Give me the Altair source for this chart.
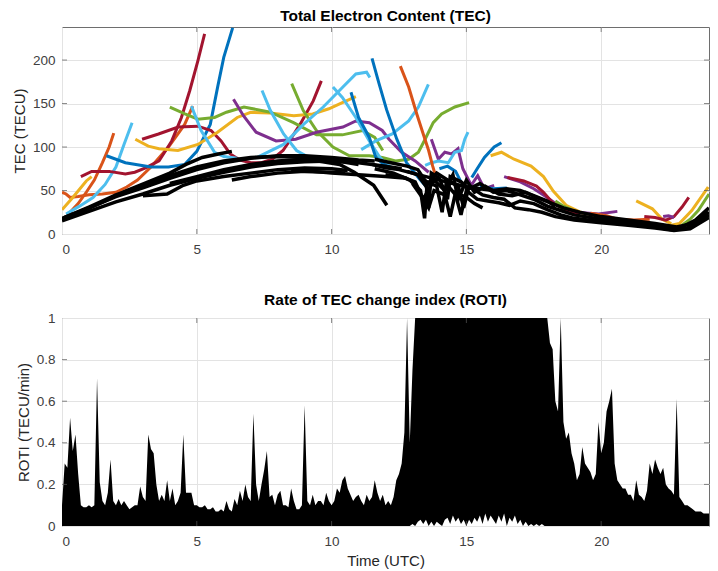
import altair as alt
import pandas as pd

# MATLAB default line colours
C_BLUE = "#0072BD"
C_ORANGE = "#D95319"
C_YELLOW = "#EDB120"
C_PURPLE = "#7E2F8E"
C_GREEN = "#77AC30"
C_LBLUE = "#4DBEEE"
C_DRED = "#A2142F"

FONT = "Liberation Sans"

# ---------------- TEC curves: (hour UTC, TECU) ----------------
orange_a = [(0.0, 48), (0.15, 46), (0.3, 42), (0.6, 43), (1.0, 45), (1.5, 46), (2.0, 48), (2.4, 54),
            (2.8, 62), (3.3, 77), (3.95, 100), (4.55, 126), (4.85, 147)]
orange_b = [(0.3, 25), (0.6, 35), (0.9, 48), (1.2, 62), (1.5, 82), (1.75, 100), (1.92, 116)]
yellow_a = [(0.0, 28), (0.4, 42), (0.9, 61), (1.1, 66)]
lightblue_a = [(0.15, 23), (0.65, 32), (1.15, 42), (1.6, 57), (2.0, 77), (2.3, 103), (2.6, 128)]
darkred_a = [(0.7, 66), (1.1, 72), (1.75, 72), (2.35, 69), (2.7, 71), (3.1, 76), (3.6, 84), (4.07, 107),
             (4.43, 134), (4.74, 165), (5.04, 199), (5.29, 230)]
blue_a = [(1.65, 90), (2.35, 82), (3.3, 77), (3.95, 77), (4.55, 80), (5.0, 95), (5.5, 126), (5.78, 170),
          (6.0, 203), (6.33, 237)]
darkred_b = [(2.97, 109), (3.58, 115), (4.31, 123), (5.04, 124), (5.53, 119), (5.9, 107), (6.24, 92),
             (6.6, 85), (7.0, 82), (7.4, 82), (7.8, 86), (8.2, 96), (8.5, 110), (8.83, 126), (9.32, 153),
             (9.62, 176)]
yellow_b = [(2.72, 109), (3.2, 101), (3.6, 98), (4.3, 96), (5.04, 103), (5.77, 117), (6.5, 134), (7.0, 140),
            (7.7, 139), (8.6, 136), (9.3, 138), (9.9, 144), (10.4, 151), (10.9, 158)]
green_a = [(4.0, 146), (4.56, 138), (5.04, 132), (5.66, 134), (6.1, 140), (6.75, 146), (7.73, 140),
           (8.59, 128), (9.44, 114), (10.4, 114), (11.15, 119), (11.6, 111), (11.9, 96)]
green_b = [(8.52, 173), (8.95, 142), (9.44, 119), (10.05, 100), (10.66, 90), (11.4, 90), (11.88, 88),
           (12.37, 84), (12.86, 86), (13.22, 94), (13.47, 109), (13.77, 128), (14.08, 138), (14.57, 146),
           (15.1, 151)]
purple_a = [(6.36, 155), (6.73, 136), (7.2, 117), (7.94, 107), (8.67, 109), (9.44, 117), (10.42, 123),
            (10.9, 130), (11.4, 128), (11.88, 119), (12.13, 109), (12.6, 94), (13.1, 84), (13.6, 71)]
purple_b = [(13.7, 109), (13.96, 86), (14.2, 94), (14.45, 92), (14.69, 98), (14.87, 75), (15.18, 56),
            (15.42, 67), (15.67, 52), (16.03, 56)]
purple_c = [(16.4, 66), (17.0, 60), (17.5, 52), (17.9, 44), (18.4, 33), (19.1, 25), (19.9, 23), (20.6, 26)]
lightblue_b = [(4.8, 147), (5.16, 119), (5.66, 94), (6.0, 89), (6.5, 87)]
lightblue_c = [(7.42, 165), (7.73, 142), (8.22, 115), (8.7, 96), (9.1, 89), (9.5, 85)]
lightblue_d = [(7.24, 88), (8.22, 103), (8.96, 126), (9.69, 146), (10.42, 169), (10.9, 184), (11.3, 186),
               (11.42, 180)]
lightblue_e = [(10.05, 169), (10.4, 157), (10.9, 134), (11.4, 107), (11.77, 89), (12.0, 81), (12.3, 75)]
lightblue_f = [(11.1, 97), (11.64, 107), (12.25, 115), (12.86, 130), (13.22, 146), (13.59, 172)]
lightblue_g = [(13.47, 79), (13.71, 82), (13.96, 84), (14.33, 82), (14.57, 94), (14.82, 96), (14.94, 109),
               (15.06, 117)]
blue_b = [(10.72, 163), (11.0, 134), (11.4, 111), (11.64, 88), (11.9, 81), (12.2, 75)]
blue_c = [(11.5, 202), (11.75, 174), (12.04, 143), (12.42, 109), (12.78, 82), (13.27, 63), (13.5, 55)]
blue_d = [(15.2, 65), (15.4, 75), (15.67, 88), (16.03, 100), (16.3, 105)]
blue_e = [(15.5, 55), (16.0, 52), (16.5, 53)]
blue_f = [(14.0, 75), (14.3, 78), (14.6, 72), (14.8, 60)]
orange_c = [(12.55, 193), (12.86, 169), (13.16, 138), (13.4, 115), (13.6, 96), (13.75, 78), (13.9, 63)]
yellow_c = [(15.9, 90), (16.3, 94), (16.77, 86), (17.4, 78), (17.86, 66), (18.23, 49), (18.7, 33),
            (19.3, 24), (20.2, 19), (21.1, 12)]
darkred_c = [(16.52, 65), (17.13, 61), (17.6, 55), (17.86, 48), (18.2, 36), (18.7, 27), (19.2, 22)]
orange_d = [(19.6, 24), (20.2, 21), (20.6, 17), (21.2, 16), (21.8, 17)]
yellow_d = [(21.3, 38), (21.9, 29), (22.26, 17), (22.6, 12)]
darkred_d = [(21.6, 20), (22.0, 19), (22.4, 16), (22.7, 20), (23.0, 31), (23.25, 42)]
yellow_e = [(22.6, 10), (22.9, 12), (23.36, 27), (23.97, 54)]
green_c = [(23.0, 10), (23.3, 17), (23.6, 27), (24.0, 46)]
green_d = [(18.3, 38), (18.6, 32), (18.9, 28)]
purple_d = [(22.3, 20), (22.5, 21), (22.7, 19)]

k1 = [(0, 17), (0.8, 27), (1.6, 38), (2.4, 50), (3.2, 60), (4.0, 70), (4.6, 80), (5.2, 88), (5.8, 92), (6.3, 95)]
k2 = [(0, 18), (1, 30), (2, 43), (3, 53), (4, 64), (5, 74), (6, 82), (7, 87), (8, 90), (9, 90), (10, 88),
      (11, 85), (11.6, 84)]
k3 = [(0, 15), (1, 26), (2, 37), (3, 46), (4, 56), (5, 64), (6, 71), (7, 77), (8, 81), (9, 83), (10, 84),
      (11, 82), (12, 78), (12.6, 75)]
k4 = [(0.1, 19), (1, 31), (2, 45), (3, 56), (4, 67), (5, 77), (6, 84), (7, 88), (8, 89), (9, 88), (10, 86),
      (11, 84)]
k5 = [(3.0, 44), (3.9, 46), (4.5, 56), (5, 61), (6, 66), (7, 70), (8, 74), (9, 76), (10, 75), (10.6, 73)]
k6 = [(6.3, 62), (7, 66), (8, 70), (9, 72), (10, 71), (10.5, 70)]
k7 = [(4.0, 58), (5, 66), (6, 74), (7, 80), (8, 84), (9, 86), (10, 85), (11, 80)]
k8 = [(8.5, 74), (9, 73), (10, 70), (11, 68), (12, 66), (12.8, 64)]
k9 = [(9.5, 84), (10.3, 80), (10.84, 71), (11.56, 56), (12.05, 33)]
k10 = [(11.6, 86), (12.2, 82), (12.8, 78), (13.2, 74), (13.5, 60), (13.6, 30), (13.7, 70), (14.0, 64),
       (14.3, 40), (14.4, 66), (14.8, 60), (15.1, 52), (15.5, 58), (16.0, 48), (16.5, 50), (17.0, 45),
       (17.5, 40), (18.0, 32), (18.5, 27), (19.0, 22), (20.0, 17), (21.0, 14), (22.0, 10), (22.5, 7),
       (23.0, 8), (23.5, 16), (24.0, 30)]
k11 = [(11.6, 75), (12.3, 70), (12.9, 62), (13.3, 50), (13.45, 18), (13.55, 60), (13.9, 55), (14.1, 25),
       (14.25, 58), (14.6, 45), (14.8, 22), (15.0, 50), (15.4, 40), (15.8, 38), (16.2, 36), (16.6, 33),
       (17.0, 38), (17.5, 35), (18.0, 28), (18.5, 22), (19.0, 18), (20.0, 14), (21.0, 11), (22.0, 8),
       (22.6, 5), (23.2, 7), (23.8, 17), (24.0, 22)]
k12 = [(12.0, 68), (12.6, 66), (13.1, 60), (13.4, 40), (13.8, 62), (14.2, 50), (14.5, 68), (14.7, 40),
       (15.0, 62), (15.3, 48), (15.7, 55), (16.2, 46), (16.7, 44), (17.2, 48), (17.6, 42), (18.1, 36),
       (18.6, 30), (19.2, 25), (20.0, 20), (21.0, 16), (22.0, 12), (22.8, 8), (23.4, 12), (24.0, 25)]
k13 = [(12.8, 72), (13.2, 68), (13.5, 55), (13.9, 70), (14.3, 62), (14.7, 55), (14.9, 30), (15.1, 55),
       (15.6, 45), (16.0, 42), (16.4, 40), (16.8, 30), (17.3, 28), (17.8, 25), (18.3, 20), (19.0, 16),
       (20.0, 13), (21.0, 10), (22.0, 7), (22.7, 4), (23.3, 6), (24.0, 19)]
k14 = [(13.0, 58), (13.3, 45), (13.6, 30), (13.8, 50), (14.2, 45), (14.4, 20), (14.6, 48), (15.0, 42),
       (15.3, 35), (15.6, 30)]
k15 = [(11.5, 80), (12.0, 76), (12.5, 74), (13.0, 70), (13.5, 66), (14.0, 62), (14.5, 58), (15.0, 54),
       (15.5, 52), (16.0, 50), (16.5, 52), (17.0, 50), (17.5, 44), (18.0, 38), (18.3, 32)]

colored_curves = [
    ("orange_a", C_ORANGE, orange_a), ("orange_b", C_ORANGE, orange_b), ("yellow_a", C_YELLOW, yellow_a),
    ("lightblue_a", C_LBLUE, lightblue_a), ("darkred_a", C_DRED, darkred_a), ("blue_a", C_BLUE, blue_a),
    ("darkred_b", C_DRED, darkred_b), ("yellow_b", C_YELLOW, yellow_b), ("green_a", C_GREEN, green_a),
    ("green_b", C_GREEN, green_b), ("purple_a", C_PURPLE, purple_a), ("purple_b", C_PURPLE, purple_b),
    ("purple_c", C_PURPLE, purple_c), ("lightblue_b", C_LBLUE, lightblue_b), ("lightblue_c", C_LBLUE, lightblue_c),
    ("lightblue_d", C_LBLUE, lightblue_d), ("lightblue_e", C_LBLUE, lightblue_e), ("lightblue_f", C_LBLUE, lightblue_f),
    ("lightblue_g", C_LBLUE, lightblue_g), ("blue_b", C_BLUE, blue_b), ("blue_c", C_BLUE, blue_c),
    ("blue_d", C_BLUE, blue_d), ("blue_e", C_BLUE, blue_e), ("blue_f", C_BLUE, blue_f),
    ("orange_c", C_ORANGE, orange_c), ("yellow_c", C_YELLOW, yellow_c), ("darkred_c", C_DRED, darkred_c),
    ("orange_d", C_ORANGE, orange_d), ("yellow_d", C_YELLOW, yellow_d), ("darkred_d", C_DRED, darkred_d),
    ("yellow_e", C_YELLOW, yellow_e), ("green_c", C_GREEN, green_c), ("green_d", C_GREEN, green_d),
    ("purple_d", C_PURPLE, purple_d),
]
black_curves = [("k1", k1), ("k2", k2), ("k3", k3), ("k4", k4), ("k5", k5), ("k6", k6), ("k7", k7), ("k8", k8),
                ("k9", k9), ("k10", k10), ("k11", k11), ("k12", k12), ("k13", k13), ("k14", k14), ("k15", k15)]

# ---------------- ROTI (TECU/min), sampled every 0.1 h from 0 to 24 ----------------
roti_hi = [
    0.10, 0.30, 0.28, 0.52, 0.36, 0.44, 0.25, 0.10, 0.09, 0.09,
    0.10, 0.09, 0.10, 0.71, 0.21, 0.12, 0.10, 0.16, 0.32, 0.12,
    0.10, 0.13, 0.10, 0.12, 0.10, 0.08, 0.09, 0.10, 0.10, 0.19,
    0.14, 0.12, 0.44, 0.37, 0.35, 0.20, 0.12, 0.15, 0.12, 0.22,
    0.12, 0.18, 0.10, 0.12, 0.16, 0.44, 0.16, 0.16, 0.16, 0.10,
    0.10, 0.09, 0.09, 0.10, 0.08, 0.08, 0.09, 0.07, 0.07, 0.08,
    0.07, 0.12, 0.08, 0.07, 0.13, 0.10, 0.17, 0.12, 0.20, 0.14,
    0.12, 0.54, 0.20, 0.12, 0.20, 0.27, 0.36, 0.14, 0.15, 0.10,
    0.15, 0.17, 0.10, 0.10, 0.09, 0.18, 0.12, 0.08, 0.08, 0.10,
    0.58, 0.12, 0.10, 0.15, 0.10, 0.12, 0.12, 0.10, 0.16, 0.12,
    0.10, 0.12, 0.18, 0.16, 0.22, 0.24, 0.18, 0.15, 0.12, 0.14,
    0.15, 0.12, 0.10, 0.15, 0.12, 0.14, 0.22, 0.16, 0.12, 0.15,
    0.10, 0.12, 0.10, 0.14, 0.22, 0.25, 0.30, 0.45, 1.00, 0.40,
    0.75, 1.00, 1.00, 1.00, 1.00, 1.00, 1.00, 1.00, 1.00, 1.00,
    1.00, 1.00, 1.00, 1.00, 1.00, 1.00, 1.00, 1.00, 1.00, 1.00,
    1.00, 1.00, 1.00, 1.00, 1.00, 1.00, 1.00, 1.00, 1.00, 1.00,
    1.00, 1.00, 1.00, 1.00, 1.00, 1.00, 1.00, 1.00, 1.00, 1.00,
    1.00, 1.00, 1.00, 1.00, 1.00, 1.00, 1.00, 1.00, 1.00, 1.00,
    1.00, 0.88, 0.85, 0.60, 0.55, 1.00, 0.50, 0.42, 0.45, 0.35,
    0.30, 0.22, 0.25, 0.38, 0.30, 0.28, 0.26, 0.22, 0.25, 0.50,
    0.35, 0.40, 0.55, 0.60, 0.66, 0.30, 0.22, 0.20, 0.18, 0.18,
    0.15, 0.15, 0.12, 0.22, 0.15, 0.14, 0.12, 0.17, 0.30, 0.25,
    0.32, 0.28, 0.25, 0.28, 0.20, 0.18, 0.17, 0.15, 0.61, 0.14,
    0.12, 0.10, 0.10, 0.09, 0.08, 0.07, 0.07, 0.07, 0.06, 0.06,
    0.06,
]
# lower edge of the ROTI trace during the disturbed period (12.9 h to 18.4 h)
roti_lo_start_index = 129
roti_lo = [
    0.00, 0.01, 0.00, 0.02, 0.03, 0.01, 0.03, 0.00, 0.02, 0.00,
    0.02, 0.01, 0.00, 0.03, 0.04, 0.01, 0.05, 0.02, 0.04, 0.01,
    0.03, 0.00, 0.03, 0.01, 0.04, 0.02, 0.05, 0.01, 0.06, 0.02,
    0.05, 0.03, 0.01, 0.05, 0.02, 0.06, 0.00, 0.04, 0.02, 0.05,
    0.01, 0.03, 0.00, 0.02, 0.00, 0.01, 0.00, 0.01, 0.00, 0.01,
    0.00, 0.00, 0.00, 0.00, 0.00, 0.00,
]

x_ticks = [0, 5, 10, 15, 20]
tec_ticks = [0, 50, 100, 150, 200]
roti_ticks = [0, 0.2, 0.4, 0.6, 0.8, 1]
X_MAX = 24
TEC_MAX = 238
ROTI_MAX = 1

# ---------------- build tables ----------------
col_rows = []
for name, color, pts in colored_curves:
    for i, (t, v) in enumerate(pts):
        col_rows.append({"id": name, "t": t, "v": v, "seq": i})
df_col = pd.DataFrame(col_rows)
blk_rows = []
for name, pts in black_curves:
    for i, (t, v) in enumerate(pts):
        blk_rows.append({"id": name, "t": t, "v": v, "seq": i})
df_blk = pd.DataFrame(blk_rows)

lo_full = [0.0] * len(roti_hi)
for j, val in enumerate(roti_lo):
    lo_full[roti_lo_start_index + j] = val
df_roti = pd.DataFrame({"t": [round(i * 0.1, 1) for i in range(len(roti_hi))], "hi": roti_hi, "lo": lo_full})

TICK_COLOR = "#555555"
W, H_TOP, H_BOT = 647, 207, 208


def inner_ticks(xenc, yenc, yfield, yticks, ymax):
    """Inward-pointing MATLAB-style tick marks on all four sides (kept inside the frame)."""
    inner = [v for v in yticks if 0 < v < ymax]
    left = pd.DataFrame({"t": [0] * len(inner), yfield: inner})
    right = pd.DataFrame({"t": [X_MAX] * len(inner), yfield: inner})
    xin = [t for t in x_ticks if 0 < t < X_MAX]
    bottom = pd.DataFrame({"t": xin, yfield: [0] * len(xin)})
    top = pd.DataFrame({"t": xin, yfield: [ymax] * len(xin)})
    kw = dict(size=5, thickness=1, color=TICK_COLOR)
    return [
        alt.Chart(left).mark_tick(orient="horizontal", xOffset=2.5, **kw).encode(x=xenc, y=yenc),
        alt.Chart(right).mark_tick(orient="horizontal", xOffset=-2.5, **kw).encode(x=xenc, y=yenc),
        alt.Chart(bottom).mark_tick(orient="vertical", yOffset=-2.5, **kw).encode(x=xenc, y=yenc),
        alt.Chart(top).mark_tick(orient="vertical", yOffset=2.5, **kw).encode(x=xenc, y=yenc),
    ]


# ---------------- top panel ----------------
xs = alt.Scale(domain=[0, X_MAX], nice=False, zero=False)
ys_top = alt.Scale(domain=[0, TEC_MAX], nice=False)
x_top = alt.X("t:Q", scale=xs, axis=alt.Axis(values=x_ticks, title=None, format="d"))
y_top = alt.Y("v:Q", scale=ys_top, axis=alt.Axis(values=tec_ticks, title="TEC (TECU)", format="d"))

colored = alt.Chart(df_col).mark_line(strokeWidth=3, clip=True).encode(
    x=x_top, y=y_top,
    color=alt.Color("id:N", scale=alt.Scale(domain=[c[0] for c in colored_curves],
                                            range=[c[1] for c in colored_curves]), legend=None),
    order=alt.Order("seq:Q"),
)
black = alt.Chart(df_blk).mark_line(strokeWidth=3.5, color="#000000", clip=True).encode(
    x=x_top, y=y_top, detail="id:N", order=alt.Order("seq:Q"),
)

top = alt.layer(colored, black, *inner_ticks(x_top, y_top, "v", tec_ticks, TEC_MAX)).properties(
    width=W, height=H_TOP, title="Total Electron Content (TEC)")

# ---------------- bottom panel ----------------
ys_bot = alt.Scale(domain=[0, ROTI_MAX], nice=False)
x_bot = alt.X("t:Q", scale=xs, axis=alt.Axis(values=x_ticks, title="Time (UTC)", format="d"))
y_bot_hi = alt.Y("hi:Q", scale=ys_bot, axis=alt.Axis(values=roti_ticks, title="ROTI (TECU/min)",
                                                      labelExpr="'' + datum.value"))
roti_area = alt.Chart(df_roti).mark_area(color="#000000", opacity=1, clip=True).encode(
    x=x_bot, y=y_bot_hi, y2="lo:Q")

bottom = alt.layer(roti_area, *inner_ticks(x_bot, y_bot_hi, "hi", roti_ticks, ROTI_MAX)).properties(
    width=W, height=H_BOT, title="Rate of TEC change index (ROTI)")

chart = alt.vconcat(top, bottom, spacing=36).properties(
    padding={"left": 3, "top": 0, "right": 0, "bottom": 0}
).configure_axis(
    labelFont=FONT, labelFontSize=13.5, labelColor="#404040",
    titleFont=FONT, titleFontSize=15, titleColor="#262626", titleFontWeight="normal",
    grid=True, gridColor="#e3e3e3", gridWidth=1,
    domain=False, ticks=False, labelPadding=7,
).configure_axisX(labelPadding=8, titlePadding=6).configure_axisY(titlePadding=5).configure_view(
    stroke="#6e6e6e", strokeWidth=1
).configure_title(
    font=FONT, fontSize=15.5, fontWeight="bold", color="#000000", offset=3, anchor="middle", baseline="alphabetic"
)

chart.save("out.html", embed_options={"renderer": "svg", "actions": False})
